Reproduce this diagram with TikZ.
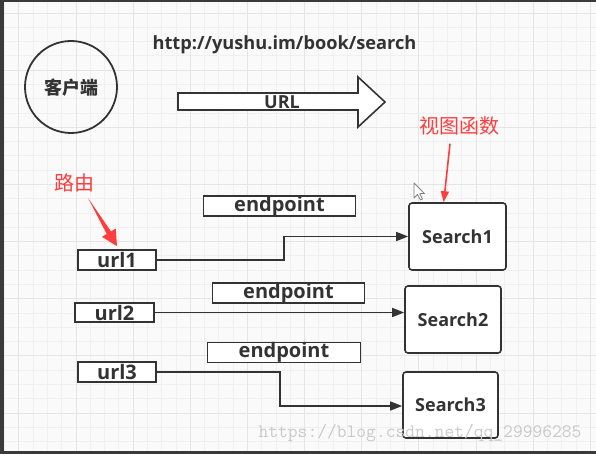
\documentclass[tikz,border=0pt]{standalone}
\usepackage{fontspec}
\setmainfont{Open Sans}
\newfontfamily\cjk{Noto Sans CJK SC}
\usetikzlibrary{calc,arrows.meta}
\definecolor{bg}{HTML}{FAFAFA}
\definecolor{gminor}{HTML}{F0F0F0}
\definecolor{gmajor}{HTML}{E5E5E5}
\definecolor{ink}{HTML}{333333}
\definecolor{redc}{HTML}{FF3D3D}
\definecolor{frame}{HTML}{3A3A3A}
\definecolor{wm}{HTML}{C9C9C9}
\tikzset{
  lbl/.style={font=\bfseries\fontsize{20}{20}\selectfont, text=ink},
  box/.style={lbl, draw=ink, line width=1.6pt, fill=white, inner sep=0pt},
  sbox/.style={box, rounded corners=3pt, font=\bfseries\fontsize{18}{18}\selectfont},
  conn/.style={draw=ink, line width=1.4pt, -{Triangle[length=12pt,width=9pt]}},
  redtxt/.style={font=\cjk\fontsize{20}{20}\selectfont, text=redc},
  redline/.style={draw=redc, line width=1.6pt, -{Triangle[length=11pt,width=8pt]}}
}
\begin{document}
\begin{tikzpicture}[x=1pt,y=-1pt]
\useasboundingbox (0,0) rectangle (596,454);
\fill[bg] (0,0) rectangle (596,454);
% grid
\foreach \i in {0,...,41} \draw[gminor,line width=0.8pt] ({4.6+\i*14.285},0) -- ({4.6+\i*14.285},454);
\foreach \j in {0,...,31} \draw[gminor,line width=0.8pt] (0,{13+\j*14.285}) -- (596,{13+\j*14.285});
\foreach \i in {0,...,10} \draw[gmajor,line width=0.9pt] ({18.9+\i*57.14},0) -- ({18.9+\i*57.14},454);
\foreach \j in {0,...,7} \draw[gmajor,line width=0.9pt] (0,{13+\j*57.14}) -- (596,{13+\j*57.14});
% frame
\fill[frame] (0,0) rectangle (4,454);
\fill[frame] (0,0) rectangle (596,2);
\fill[frame] (0,451) rectangle (596,454);

% client
\node[draw=ink, line width=1.8pt, circle, minimum size=92pt, inner sep=0pt] (client) at (71,87) {};
\node[font=\cjk\bfseries\fontsize{18}{18}\selectfont, text=ink] (clienttxt) at (71,88) {客户端};

% url text
\node[font=\bfseries\fontsize{18.2}{18.2}\selectfont, text=ink] (addr) at (284.5,45) {http://yushu.im/book/search};

% block arrow
\filldraw[fill=white, draw=ink, line width=1.6pt, line join=miter]
  (178,93) -- (358,93) -- (358,77) -- (385,102) -- (358,127) -- (358,110) -- (178,110) -- cycle;
\node[font=\bfseries\fontsize{18}{18}\selectfont, text=ink] (urllbl) at (282,102) {URL};

% boxes
\node[box, minimum width=152pt, minimum height=20pt] (ep1) at (279.5,206) {endpoint};
\node[box, minimum width=152pt, minimum height=20pt] (ep2) at (288.5,293) {endpoint};
\node[box, minimum width=153pt, minimum height=19pt] (ep3) at (284,352.5) {endpoint};
\node[box, minimum width=78pt, minimum height=20pt] (u1) at (117,260) {url1};
\node[box, minimum width=79pt, minimum height=19pt] (u2) at (114.5,312.5) {url2};
\node[box, minimum width=78pt, minimum height=20pt] (u3) at (117,372) {url3};
\node[sbox, minimum width=97pt, minimum height=67pt] (s1) at (457.5,236.5) {Search1};
\node[sbox, minimum width=96pt, minimum height=67pt] (s2) at (453,319.5) {Search2};
\node[sbox, minimum width=95pt, minimum height=66pt] (s3) at (450.5,405) {Search3};

% connectors
\draw[conn] (u1.east) -- ++(127,0) |- (s1.west);
\draw[conn] (u2.east) -- (u2.east -| s2.west);
\draw[conn] (u3.east) -- ++(123,0) |- ([yshift=-1pt]s3.west);

% red labels
\node[redtxt] (shitu) at (459,126) {视图函数};
\node[redtxt] (luyou) at (74,183) {路由};
\coordinate (st) at ([xshift=-9pt,yshift=-5pt]shitu.south);
\draw[redline] (st) -- ($(s1.north west)!0.36!(s1.north east)$);
\coordinate (rt) at (88,198);
\coordinate (rh) at ([yshift=3pt]u1.north);
\coordinate (rb) at ($(rt)!0.72!(rh)$);
\fill[redc] (rt) -- ($(rb)!2.5pt!90:(rh)$) -- ($(rb)!8pt!90:(rh)$) -- (rh) -- ($(rb)!8pt!-90:(rh)$) -- ($(rb)!2.5pt!-90:(rh)$) -- cycle;

% mouse cursor
\filldraw[fill=white, draw=gray, line width=0.8pt, line join=round]
  (414,183) -- (414,198) -- (417.5,194.5) -- (420.5,200) -- (422.5,199) -- (419.8,193.6) -- (424.5,193.6) -- cycle;

% watermark
\node[font=\ttfamily\fontsize{19}{19}\selectfont, text=wm] (wmark) at (420,433) {https://blog.csdn.net/qq\_29996285};
\end{tikzpicture}
\end{document}
